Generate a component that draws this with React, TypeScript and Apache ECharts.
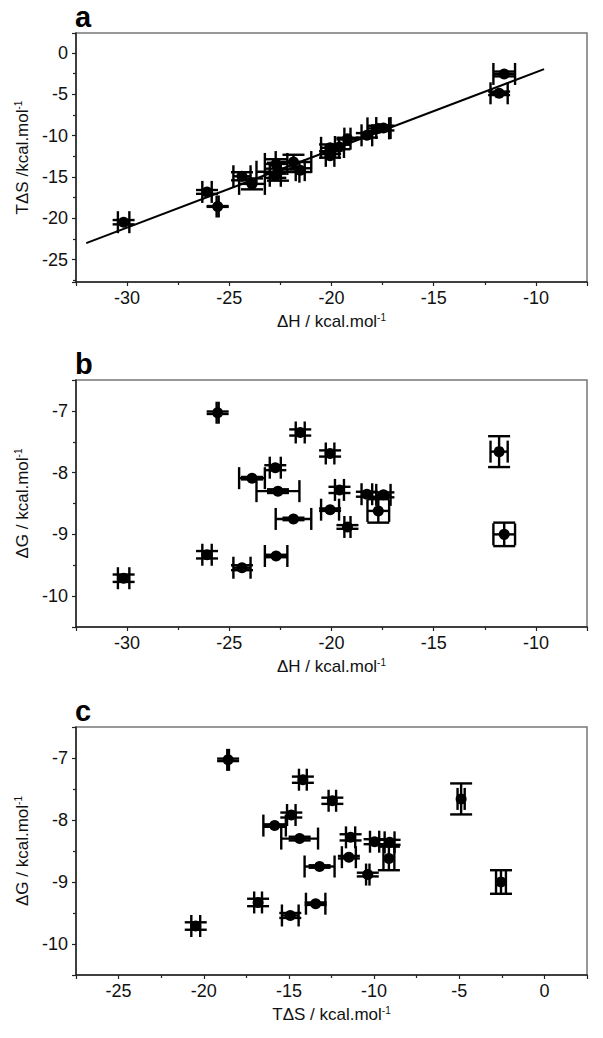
import React, { useEffect, useRef } from "react";
import * as echarts from "echarts";

// ---- data ----
const dH = [-30.17, -25.57, -21.53, -20.07, -22.75, -23.89, -22.62, -21.86, -19.61, -20.07, -19.22, -26.09, -24.38, -22.71, -18.27, -17.46, -17.71, -11.8, -11.55];
const TdS = [-20.47, -18.57, -14.18, -12.45, -14.86, -15.84, -14.37, -13.2, -11.38, -11.48, -10.37, -16.81, -14.92, -13.43, -9.97, -9.09, -9.13, -4.89, -2.55];
const dG = [-9.71, -7.03, -7.35, -7.69, -7.92, -8.09, -8.3, -8.75, -8.28, -8.6, -8.88, -9.33, -9.54, -9.35, -8.35, -8.36, -8.62, -7.66, -9.0];
const dHErr = [0.28, 0.05, 0.22, 0.21, 0.27, 0.63, 1.05, 0.87, 0.22, 0.44, 0.15, 0.23, 0.42, 0.55, 0.26, 0.35, 0.53, 0.42, 0.53];
const TdSErr = [0.26, 0.05, 0.23, 0.22, 0.25, 0.66, 1.08, 0.88, 0.27, 0.41, 0.1, 0.23, 0.49, 0.57, 0.27, 0.29, 0.32, 0.21, 0.29];
const dGErr = [0.06, 0.02, 0.05, 0.05, 0.04, 0.02, 0.03, 0.02, 0.05, 0.02, 0.03, 0.06, 0.04, 0.02, 0.04, 0.04, 0.19, 0.25, 0.19];
// linear fit line in panel a
const fitX = [-32, -9.6];
const fitY = [-23.0, -1.97];
const panelLetters = ["a", "b", "c"];

const F = '"Liberation Sans", Arial, sans-serif';
const INK = "#111";

function zip4(xs: number[], ys: number[], exs: number[], eys: number[]) {
  return xs.map((x, i) => [x, ys[i], exs[i], eys[i]]);
}

const CAP = 11;
function renderErr(params: any, api: any) {
  const x = api.value(0);
  const y = api.value(1);
  const ex = api.value(2);
  const ey = api.value(3);
  const c = api.coord([x, y]);
  const l = api.coord([x - ex, y]);
  const r = api.coord([x + ex, y]);
  const t = api.coord([x, y + ey]);
  const b = api.coord([x, y - ey]);
  const st = { stroke: "#000", lineWidth: 2.4, fill: null };
  const ln = (x1: number, y1: number, x2: number, y2: number) => ({
    type: "line",
    shape: { x1, y1, x2, y2 },
    style: st,
  });
  return {
    type: "group",
    children: [
      ln(l[0], c[1], r[0], c[1]),
      ln(l[0], c[1] - CAP, l[0], c[1] + CAP),
      ln(r[0], c[1] - CAP, r[0], c[1] + CAP),
      ln(c[0], t[1], c[0], b[1]),
      ln(c[0] - CAP, t[1], c[0] + CAP, t[1]),
      ln(c[0] - CAP, b[1], c[0] + CAP, b[1]),
      { type: "circle", shape: { cx: c[0], cy: c[1], r: 5.5 }, style: { fill: "#000" } },
    ],
  };
}

const richName = {
  sup: { fontSize: 10, fontFamily: F, color: INK, padding: [0, 0, 8, 0] },
};

function axis(gridIndex: number, min: number, max: number, name: string, isY: boolean) {
  return {
    type: "value",
    gridIndex,
    min,
    max,
    name,
    nameLocation: "middle",
    nameGap: isY ? 42 : 30,
    nameTextStyle: { fontSize: 17, fontFamily: F, color: INK, rich: richName },
    axisLine: { show: true, onZero: false, lineStyle: { color: "#222", width: 1.5 } },
    axisTick: { show: true, inside: false, length: 4, lineStyle: { color: "#222", width: 1.2 } },
    minorTick: { show: true, splitNumber: 2, length: 3, lineStyle: { color: "#222", width: 1.2 } },
    splitLine: { show: false },
    minorSplitLine: { show: false },
    axisLabel: {
      fontSize: 18,
      fontFamily: F,
      color: INK,
      margin: isY ? 8 : 7,
      showMinLabel: false,
      showMaxLabel: false,
    },
  };
}

export default function App() {
  const ref = useRef<HTMLDivElement>(null);
  useEffect(() => {
    if (!ref.current) return;
    const chart = echarts.init(ref.current, null, { renderer: "svg" });
    const gridBase = { left: 76, width: 511, show: true, borderColor: "#777", borderWidth: 1.5, containLabel: false };
    const option: any = {
      animation: false,
      backgroundColor: "#fff",
      grid: [
        { ...gridBase, top: 33, height: 249 },
        { ...gridBase, top: 380, height: 247 },
        { ...gridBase, top: 727, height: 248 },
      ],
      xAxis: [
        axis(0, -32.5, -7.5, "ΔH / kcal.mol{sup|-1}", false),
        axis(1, -32.5, -7.5, "ΔH / kcal.mol{sup|-1}", false),
        axis(2, -27.5, 2.5, "TΔS / kcal.mol{sup|-1}", false),
      ],
      yAxis: [
        axis(0, -27.7, 2.4, "TΔS /kcal.mol{sup|-1}", true),
        axis(1, -10.5, -6.5, "ΔG / kcal.mol{sup|-1}", true),
        axis(2, -10.5, -6.5, "ΔG / kcal.mol{sup|-1}", true),
      ],
      graphic: panelLetters.map((s, i) => ({
        type: "text",
        left: 75,
        top: [2, 349, 696][i],
        style: { text: s, fontSize: 29, fontWeight: "bold", fontFamily: F, fill: "#000" },
      })),
      series: [
        {
          type: "line",
          xAxisIndex: 0,
          yAxisIndex: 0,
          data: fitX.map((x, i) => [x, fitY[i]]),
          symbol: "none",
          lineStyle: { color: "#000", width: 2 },
          z: 1,
        },
        {
          type: "custom",
          xAxisIndex: 0,
          yAxisIndex: 0,
          data: zip4(dH, TdS, dHErr, TdSErr),
          encode: { x: 0, y: 1 },
          renderItem: renderErr,
          z: 2,
        },
        {
          type: "custom",
          xAxisIndex: 1,
          yAxisIndex: 1,
          data: zip4(dH, dG, dHErr, dGErr),
          encode: { x: 0, y: 1 },
          renderItem: renderErr,
        },
        {
          type: "custom",
          xAxisIndex: 2,
          yAxisIndex: 2,
          data: zip4(TdS, dG, TdSErr, dGErr),
          encode: { x: 0, y: 1 },
          renderItem: renderErr,
        },
      ],
    };
    chart.setOption(option);
    return () => chart.dispose();
  }, []);
  return (
    <div
      ref={ref}
      style={{ position: "absolute", left: 0, top: 0, width: 603, height: 1038, background: "#fff" }}
    />
  );
}
